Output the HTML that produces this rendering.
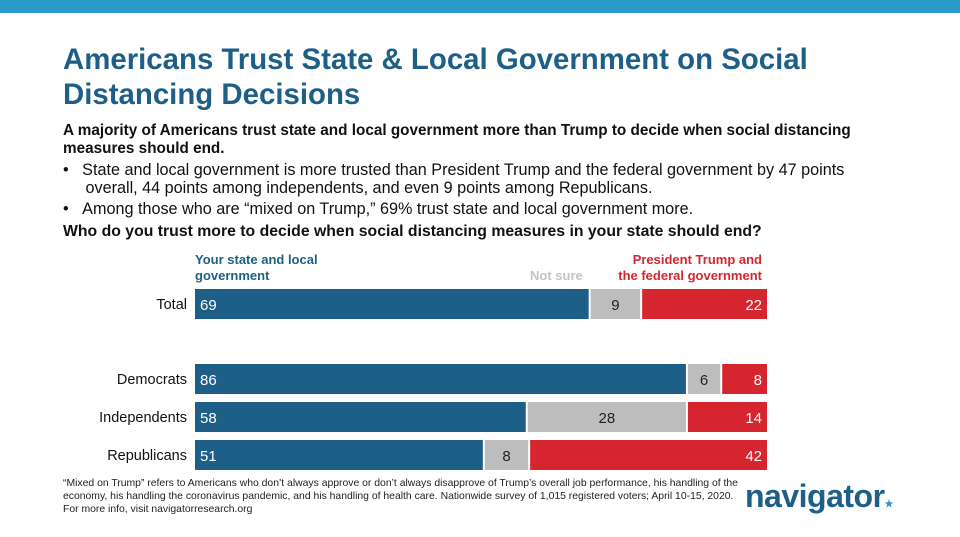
<!DOCTYPE html>
<html><head><meta charset="utf-8"><style>
body{margin:0;width:960px;height:537px;background:#fff;position:relative;overflow:hidden;font-family:"Liberation Sans",sans-serif;}
.t{position:absolute;white-space:nowrap;}
</style></head><body>
<div style="position:absolute;left:0;top:0;width:960px;height:13px;background:#2a9ac8"></div>
<div class="t" style="left:63px;top:42px;font-size:29.4px;font-weight:bold;color:#1d5f87;line-height:35px;letter-spacing:0px">Americans Trust State &amp; Local Government on Social<br>Distancing Decisions</div>
<div class="t" style="left:63px;top:122px;font-size:15.3px;font-weight:bold;color:#111;line-height:18px">A majority of Americans trust state and local government more than Trump to decide when social distancing<br>measures should end.</div>
<div class="t" style="left:63px;top:161px;font-size:16.2px;color:#111;line-height:18px">•&nbsp;&nbsp;&nbsp;State and local government is more trusted than President Trump and the federal government by 47 points<br>&nbsp;&nbsp;&nbsp;&nbsp;&nbsp;overall, 44 points among independents, and even 9 points among Republicans.</div>
<div class="t" style="left:63px;top:200px;font-size:16.2px;color:#111">•&nbsp;&nbsp;&nbsp;Among those who are “mixed on Trump,” 69% trust state and local government more.</div>
<div class="t" style="left:63px;top:223px;font-size:15.8px;font-weight:bold;color:#111">Who do you trust more to decide when social distancing measures in your state should end?</div>
<div class="t" style="left:195px;top:252px;font-size:13px;font-weight:bold;color:#1d5f87;line-height:16px">Your state and local<br>government</div>
<div class="t" style="left:530px;top:268px;font-size:13px;font-weight:bold;color:#c4c4c4">Not sure</div>
<div class="t" style="right:198px;top:252px;font-size:13px;font-weight:bold;color:#d5262f;line-height:16px;text-align:right">President Trump and<br>the federal government</div>
<svg id="chart" width="960" height="537" style="position:absolute;left:0;top:0"></svg>
<div class="t" style="left:63px;top:477px;font-size:10.4px;color:#222;line-height:13px">“Mixed on Trump” refers to Americans who don’t always approve or don’t always disapprove of Trump’s overall job performance, his handling of the<br>economy, his handling the coronavirus pandemic, and his handling of health care. Nationwide survey of 1,015 registered voters; April 10-15, 2020.<br>For more info, visit navigatorresearch.org</div>
<div class="t" style="left:745px;top:478px;font-size:32px;font-weight:bold;color:#1d5f87;letter-spacing:-0.5px">navigator<span style="font-size:10px;color:#2a9ac8">★</span></div>
<script>
const categories=["Total","Democrats","Independents","Republicans"];
const stateLocal=[69,86,58,51];
const notSure=[9,6,28,8];
const trumpFed=[22,8,14,42];
const rowY=[289,364,402,440];
const svg=document.getElementById('chart');
const NS='http://www.w3.org/2000/svg';
const x0=195,w=572,bh=30;
function mk(tag,attrs){const e=document.createElementNS(NS,tag);for(const k in attrs)e.setAttribute(k,attrs[k]);svg.appendChild(e);return e;}
categories.forEach((c,i)=>{
  const y=rowY[i];
  const tot=stateLocal[i]+notSure[i]+trumpFed[i];
  const sx=v=>v/tot*w;
  const lab=mk('text',{x:187,y:y+bh/2+5,'text-anchor':'end','font-size':14.5,'font-family':'Liberation Sans, sans-serif',fill:'#111'});
  lab.textContent=c;
  
  
  const segs=[[stateLocal[i],'#1e5f88','#fff','start'],[notSure[i],'#bdbdbd','#222','middle'],[trumpFed[i],'#d5262f','#fff','end']];
  let cx=x0;
  segs.forEach((s,j)=>{
    const sw=sx(s[0]);
    const r=mk('rect',{x:cx+(j?1:0),y:y,width:Math.max(sw-(j==1?2:1),0),height:bh,fill:s[1]});
    
    
    const tx=s[3]=='start'?cx+5:s[3]=='middle'?cx+sw/2:cx+sw-5;
    const t=mk('text',{x:tx,y:y+bh/2+6,'text-anchor':s[3],'font-size':15,'font-family':'Liberation Sans, sans-serif',fill:s[2]});
    t.textContent=s[0];
    
    
    cx+=sw;
  });
});
</script>
</body></html>
